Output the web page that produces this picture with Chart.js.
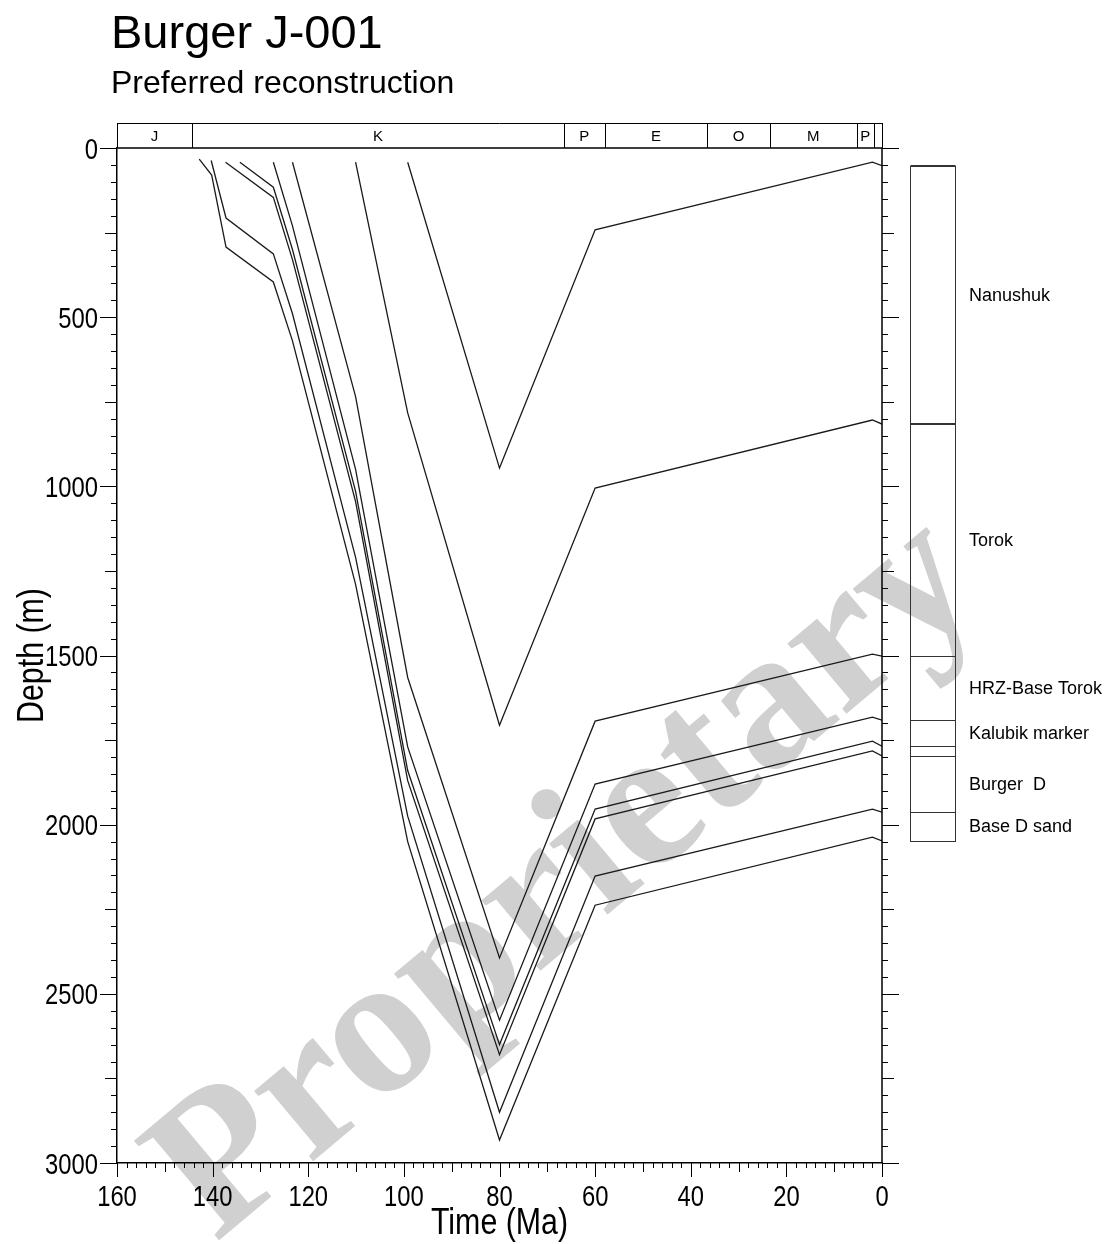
<!DOCTYPE html>
<html>
<head>
<meta charset="utf-8">
<title>Burger J-001</title>
<script src="https://cdn.jsdelivr.net/npm/chart.js@4.4.1/dist/chart.umd.min.js"></script>
<style>
  html, body { margin: 0; padding: 0; background: #fff; }
</style>
</head>
<body>
<canvas id="burialChart" width="1119" height="1244"></canvas>
<script>
// Burial history, one path per horizon: age (Ma) and depth (m)
const topNanushukAge = [99.2, 80, 60, 2, 0];
const topNanushukDepth = [42, 946, 242, 42, 52];
const topTorokAge = [110.1, 99.2, 80, 60, 2, 0];
const topTorokDepth = [42, 783, 1706, 1005, 804, 816];
const topHrzAge = [123.3, 110.1, 99.2, 80, 60, 2, 0];
const topHrzDepth = [42, 735, 1565, 2394, 1694, 1496, 1502];
const topKalubikAge = [127.3, 123.3, 110.1, 99.2, 80, 60, 2, 0];
const topKalubikDepth = [42, 230, 950, 1770, 2578, 1880, 1682, 1691];
const baseKalubikAge = [134.3, 127.3, 123.3, 110.1, 99.2, 80, 60, 2, 0];
const baseKalubikDepth = [42, 116, 300, 1015, 1840, 2650, 1954, 1753, 1768];
const topBurgerDAge = [137.3, 127.3, 123.3, 110.1, 99.2, 80, 60, 2, 0];
const topBurgerDDepth = [42, 146, 330, 1045, 1870, 2680, 1983, 1782, 1797];
const topBaseDSandAge = [140.3, 137.2, 127.3, 123.3, 110.1, 99.2, 80, 60, 2, 0];
const topBaseDSandDepth = [37, 207, 313, 490, 1210, 1975, 2850, 2152, 1954, 1963];
const baseDSandAge = [142.8, 140.2, 137.2, 127.3, 123.3, 110.1, 99.2, 80, 60, 2, 0];
const baseDSandDepth = [33, 80, 293, 396, 570, 1290, 2050, 2932, 2238, 2037, 2048];

// Present-day column (well tops, m) and the interval names
const layerTops = [52, 816, 1502, 1691, 1768, 1797, 1963, 2048];
const layerNames = ["Nanushuk", "Torok", "HRZ-Base Torok", "Kalubik marker", "", "Burger  D", "Base D sand"];

// Geologic time bar along the top
const periodBounds = [160, 144.3, 66.5, 58, 36.5, 23.5, 5.3, 1.7, 0];
const periodNames = ["J", "K", "P", "E", "O", "M", "P", ""];

const xTickStep = 20;
const yTickStep = 500;

const titleText = "Burger J-001";
const subtitleText = "Preferred reconstruction";
const xAxisTitle = "Time (Ma)";
const yAxisTitle = "Depth (m)";
const watermarkText = "Proprietary";

const plainFont = "'Liberation Sans', Arial, sans-serif";
const squeeze = 0.82; // axis text in the original is a condensed face

const horizonSeries = [
  [topNanushukAge, topNanushukDepth],
  [topTorokAge, topTorokDepth],
  [topHrzAge, topHrzDepth],
  [topKalubikAge, topKalubikDepth],
  [baseKalubikAge, baseKalubikDepth],
  [topBurgerDAge, topBurgerDDepth],
  [topBaseDSandAge, topBaseDSandDepth],
  [baseDSandAge, baseDSandDepth]
];

function narrowText(ctx, text, x, y, size, align, rot) { // draw squeezed text
  ctx.save();
  ctx.translate(x, y);
  if (rot) ctx.rotate(rot);
  ctx.scale(squeeze, 1);
  ctx.font = size + 'px ' + plainFont;
  ctx.textAlign = align;
  ctx.textBaseline = 'alphabetic';
  ctx.fillText(text, 0, 0);
  ctx.restore();
}

const watermark = { // big grey stamp behind everything
  id: 'watermark',
  beforeDraw(chart) {
    const ctx = chart.ctx;
    ctx.save();
    ctx.translate(568, 880);
    ctx.rotate(-40 * Math.PI / 180);
    ctx.font = "bold 200px 'Liberation Serif', serif";
    ctx.fillStyle = '#d0d0d0';
    ctx.textAlign = 'center';
    ctx.textBaseline = 'middle';
    ctx.fillText(watermarkText, 0, 0);
    ctx.restore();
  }
};

const headings = { // title + subtitle, left aligned
  id: 'headings',
  afterDraw(chart) {
    const ctx = chart.ctx;
    ctx.save();
    ctx.fillStyle = '#000';
    ctx.textAlign = 'left';
    ctx.textBaseline = 'alphabetic';
    ctx.font = '47px ' + plainFont;
    ctx.fillText(titleText, 111, 48);
    ctx.font = '32px ' + plainFont;
    ctx.fillText(subtitleText, 111, 93);
    ctx.restore();
  }
};

const axisText = { // tick labels and axis titles
  id: 'axisText',
  afterDraw(chart) {
    const {ctx, chartArea: a, scales: {x, y}} = chart;
    ctx.save();
    ctx.fillStyle = '#000';
    y.ticks.forEach(t => {
      narrowText(ctx, String(t.value), a.left - 19, y.getPixelForValue(t.value) + 10.5, 29, 'right');
    });
    x.ticks.forEach(t => {
      narrowText(ctx, String(t.value), x.getPixelForValue(t.value), a.bottom + 43, 29, 'center');
    });
    narrowText(ctx, xAxisTitle, (a.left + a.right) / 2, 1234, 37, 'center');
    narrowText(ctx, yAxisTitle, 43, (a.top + a.bottom) / 2, 37, 'center', -Math.PI / 2);
    ctx.restore();
  }
};

const frameAndTicks = { // top/right frame, time bar, tick marks
  id: 'frameAndTicks',
  afterDraw(chart) {
    const {ctx, chartArea: a, scales: {x, y}} = chart;
    ctx.save();
    ctx.strokeStyle = '#000';
    ctx.lineWidth = 1;

    // time bar
    const barTop = a.top - 25;
    ctx.beginPath();
    ctx.moveTo(a.left, barTop + 0.5); ctx.lineTo(a.right, barTop + 0.5);
    for (let i = 0; i < periodBounds.length; i++) {
      const px = Math.round(x.getPixelForValue(periodBounds[i])) + 0.5;
      ctx.moveTo(px, barTop); ctx.lineTo(px, a.top);
    }
    ctx.stroke();
    ctx.fillStyle = '#000';
    ctx.font = '15px ' + plainFont;
    ctx.textAlign = 'center';
    ctx.textBaseline = 'middle';
    for (let i = 0; i < periodNames.length; i++) {
      const cx = (x.getPixelForValue(periodBounds[i]) + x.getPixelForValue(periodBounds[i + 1])) / 2;
      ctx.fillText(periodNames[i], cx, barTop + 14);
    }

    // frame top and right
    ctx.lineWidth = 1.5;
    ctx.beginPath();
    ctx.moveTo(a.left, a.top); ctx.lineTo(a.right, a.top);
    ctx.moveTo(a.right, a.top); ctx.lineTo(a.right, a.bottom);
    ctx.stroke();

    // tick marks, outward on left, right and bottom
    ctx.lineWidth = 1;
    ctx.beginPath();
    for (let d = 0; d <= 3000; d += 50) {
      const py = Math.round(y.getPixelForValue(d)) + 0.5;
      const len = d % 500 === 0 ? 17 : (d % 250 === 0 ? 12 : 6);
      ctx.moveTo(a.left - len, py); ctx.lineTo(a.left, py);
      ctx.moveTo(a.right, py); ctx.lineTo(a.right + len, py);
    }
    for (let t = 0; t <= 160; t += 2) {
      const px = Math.round(x.getPixelForValue(t)) + 0.5;
      const len = t % 20 === 0 ? 14 : (t % 10 === 0 ? 9 : 5);
      ctx.moveTo(px, a.bottom); ctx.lineTo(px, a.bottom + len);
    }
    ctx.stroke();
    ctx.restore();
  }
};

const wellColumn = { // present-day stratigraphic column on the right
  id: 'wellColumn',
  afterDraw(chart) {
    const {ctx, scales: {y}} = chart;
    const left = 910.5, right = 955.5;
    ctx.save();
    ctx.strokeStyle = '#333';
    ctx.lineWidth = 1;
    const topPx = y.getPixelForValue(layerTops[0]);
    const botPx = y.getPixelForValue(layerTops[layerTops.length - 1]);
    ctx.strokeRect(left, Math.round(topPx) + 0.5, right - left, Math.round(botPx - topPx));
    ctx.beginPath();
    for (let i = 1; i < layerTops.length - 1; i++) {
      const py = Math.round(y.getPixelForValue(layerTops[i])) + 0.5;
      ctx.moveTo(left, py); ctx.lineTo(right, py);
    }
    ctx.stroke();
    ctx.lineWidth = 2; // heavier lines at the two upper tops
    ctx.beginPath();
    for (let i = 0; i < 2; i++) {
      const py = Math.round(y.getPixelForValue(layerTops[i]));
      ctx.moveTo(left, py); ctx.lineTo(right, py);
    }
    ctx.stroke();
    ctx.fillStyle = '#000';
    ctx.font = '18px ' + plainFont;
    ctx.textAlign = 'left';
    ctx.textBaseline = 'middle';
    for (let i = 0; i < layerNames.length; i++) {
      if (!layerNames[i]) continue;
      const cy = (y.getPixelForValue(layerTops[i]) + y.getPixelForValue(layerTops[i + 1])) / 2;
      ctx.fillText(layerNames[i], 969, cy + 1);
    }
    ctx.restore();
  }
};

const ctx = document.getElementById('burialChart').getContext('2d');
const burialChart = new Chart(ctx, {
  type: 'scatter',
  data: {
    datasets: horizonSeries.map(s => ({
      data: s[0].map((age, i) => ({x: age, y: s[1][i]})),
      showLine: true,
      borderColor: '#1a1a1a',
      borderWidth: 1.3,
      pointRadius: 0,
      fill: false,
      tension: 0
    }))
  },
  options: {
    responsive: false,
    animation: false,
    layout: {padding: {top: 148, right: 237, left: 0, bottom: 0}},
    plugins: {
      legend: {display: false},
      tooltip: {enabled: false}
    },
    scales: {
      x: {
        type: 'linear',
        position: 'bottom',
        reverse: true,
        min: 0,
        max: 160,
        ticks: {stepSize: xTickStep, display: false},
        grid: {display: false},
        border: {display: true, color: '#000', width: 1.5},
        afterFit(scale) { scale.height = 81; }
      },
      y: {
        type: 'linear',
        position: 'left',
        reverse: true,
        min: 0,
        max: 3000,
        ticks: {stepSize: yTickStep, display: false},
        grid: {display: false},
        border: {display: true, color: '#000', width: 1.5},
        afterFit(scale) { scale.width = 117; }
      }
    }
  },
  plugins: [watermark, frameAndTicks, wellColumn, axisText, headings]
});
</script>
</body>
</html>
